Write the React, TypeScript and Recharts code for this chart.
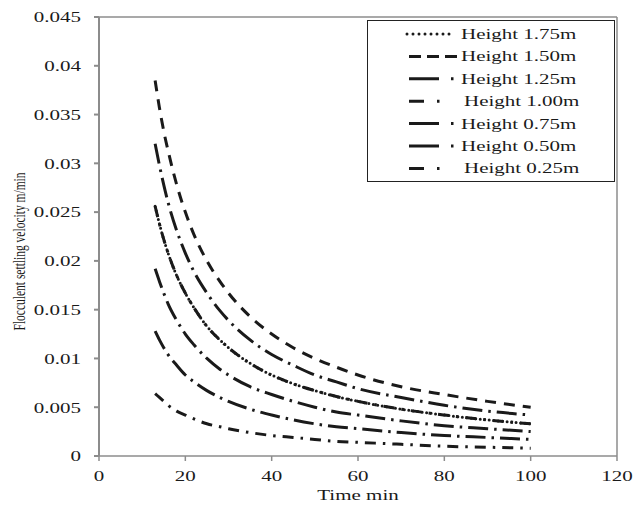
import React from 'react'
import { LineChart, Line, XAxis, YAxis, ReferenceLine, Legend } from 'recharts'

// settling velocity (m/min), by elapsed time (min)
const times = [13, 14, 15, 16, 18, 20, 22, 25, 28, 30, 35, 40, 45, 50, 55, 60, 70, 80, 90, 100]
const h150 = [0.0385, 0.0357, 0.0333, 0.0313, 0.0278, 0.025, 0.0227, 0.02, 0.0179, 0.0167, 0.0143, 0.0125, 0.0111, 0.01, 0.0091, 0.0083, 0.0071, 0.0063, 0.0056, 0.005]
const h125 = [0.032, 0.0298, 0.0278, 0.026, 0.0231, 0.0208, 0.0189, 0.0167, 0.0149, 0.0139, 0.0119, 0.0104, 0.0093, 0.0083, 0.0076, 0.0069, 0.006, 0.0052, 0.0046, 0.0042]
const h100 = [0.0256, 0.0238, 0.0222, 0.0208, 0.0185, 0.0167, 0.0152, 0.0133, 0.0119, 0.0111, 0.0095, 0.0083, 0.0074, 0.0067, 0.0061, 0.0056, 0.0048, 0.0042, 0.0037, 0.0033]
const h175 = [0.0256, 0.0238, 0.0222, 0.0208, 0.0185, 0.0167, 0.0152, 0.0133, 0.0119, 0.0111, 0.0095, 0.0083, 0.0074, 0.0067, 0.0061, 0.0056, 0.0048, 0.0042, 0.0037, 0.0033]
const h075 = [0.0192, 0.0179, 0.0167, 0.0156, 0.0139, 0.0125, 0.0114, 0.01, 0.0089, 0.0083, 0.0071, 0.0063, 0.0056, 0.005, 0.0045, 0.0042, 0.0036, 0.0031, 0.0028, 0.0025]
const h050 = [0.0128, 0.0119, 0.0111, 0.0104, 0.0093, 0.0083, 0.0076, 0.0067, 0.006, 0.0056, 0.0048, 0.0042, 0.0037, 0.0033, 0.003, 0.0028, 0.0024, 0.0021, 0.0019, 0.0017]
const h025 = [0.0064, 0.006, 0.0056, 0.0052, 0.0046, 0.0042, 0.0038, 0.0033, 0.003, 0.0028, 0.0024, 0.0021, 0.0019, 0.0017, 0.0015, 0.0014, 0.0012, 0.001, 0.0009, 0.0008]

const xTicks = [0, 20, 40, 60, 80, 100, 120]
const yTicks = [0, 0.005, 0.01, 0.015, 0.02, 0.025, 0.03, 0.035, 0.04, 0.045]

const INK = '#1a1a1a'
const AXIS = '#8c8c8c'
const FONT = '"Liberation Serif", "Times New Roman", serif'
const SX = 1.4 // the source image is stretched sideways

const series = [
  { key: 'h100', name: 'Height 1.00m', values: h100, dash: '11 7 2.5 7', cap: 'butt', legendDash: '15 13 2.5 100', textX: 96 },
  { key: 'h175', name: 'Height 1.75m', values: h175, dash: '0 4.5', cap: 'round', legendDash: '0 6', textX: 93 },
  { key: 'h150', name: 'Height 1.50m', values: h150, dash: '11 8', cap: 'butt', legendDash: '12 6', textX: 93 },
  { key: 'h125', name: 'Height 1.25m', values: h125, dash: '20 6 2.5 6', cap: 'butt', legendDash: '30 12 2.5 100', textX: 93 },
  { key: 'h075', name: 'Height 0.75m', values: h075, dash: '20 6 2.5 6', cap: 'butt', legendDash: '30 12 2.5 100', textX: 93 },
  { key: 'h050', name: 'Height 0.50m', values: h050, dash: '20 6 2.5 6', cap: 'butt', legendDash: '30 12 2.5 100', textX: 93 },
  { key: 'h025', name: 'Height 0.25m', values: h025, dash: '11 7 2.5 7', cap: 'butt', legendDash: '15 13 2.5 100', textX: 96 },
]

const legendOrder = ['h175', 'h150', 'h125', 'h100', 'h075', 'h050', 'h025']

const data = times.map((t, i) => {
  const row: any = { t }
  series.forEach(s => { row[s.key] = s.values[i] })
  return row
})

const XTick = (props: any) => {
  const { x, y, payload } = props
  return (
    <text transform={`translate(${x},${y}) scale(${SX},1)`} dy="0.71em" textAnchor="middle"
      fontSize={15} fontFamily={FONT} fill={INK}>{payload.value}</text>
  )
}

const YTick = (props: any) => {
  const { x, y, payload } = props
  return (
    <text transform={`translate(${x},${y}) scale(${SX},1)`} dy="0.355em" textAnchor="end"
      fontSize={15} fontFamily={FONT} fill={INK}>{payload.value}</text>
  )
}

const LegendBox = () => (
  <svg width={248} height={162} style={{ display: 'block' }}>
    {legendOrder.map((k, i) => {
      const s = series.find(d => d.key === k)!
      const cy = 13 + i * 22.4
      return (
        <g key={k}>
          <line x1={s.cap === 'round' ? 39 : 41} x2={s.cap === 'round' ? 82 : 90} y1={cy} y2={cy}
            stroke={INK} strokeWidth={3} strokeDasharray={s.legendDash} strokeLinecap={s.cap as any} />
          <text transform={`translate(${s.textX},${cy + 5}) scale(${SX},1)`} fontSize={15}
            fontFamily={FONT} fill={INK}>{s.name}</text>
        </g>
      )
    })}
  </svg>
)

export default function App() {
  return (
    <div style={{ position: 'absolute', left: 0, top: 0, width: 635, height: 505, background: '#fff' }}>
      <LineChart width={635} height={505} data={data} margin={{ top: 17, right: 18, left: 0, bottom: 0 }}>
        <XAxis dataKey="t" type="number" domain={[0, 120]} ticks={xTicks} interval={0}
          height={49} tickSize={5} tickMargin={9} stroke={AXIS} strokeWidth={1.5}
          tick={<XTick />}
          label={{
            content: () => (
              <text transform={`translate(358,500) scale(${SX},1)`} textAnchor="middle"
                fontSize={15} fontFamily={FONT} fill={INK}>Time min</text>
            ),
          }} />
        <YAxis type="number" domain={[0, 0.045]} ticks={yTicks} interval={0}
          width={99} tickSize={5} tickMargin={13} stroke={AXIS} strokeWidth={2}
          tick={<YTick />}
          label={{
            content: () => (
              <text transform={`translate(24.5,251.5) scale(${SX},1) rotate(-90)`} textAnchor="middle"
                fontSize={11.5} fontFamily={FONT} fill={INK}>Flocculent settling velocity m/min</text>
            ),
          }} />
        <ReferenceLine y={0.045} stroke={AXIS} strokeWidth={1.5} />
        <ReferenceLine x={120} stroke={AXIS} strokeWidth={1.5} />
        {series.map(s => (
          <Line key={s.key} dataKey={s.key} name={s.name} type="monotone" stroke={INK}
            strokeWidth={3} strokeDasharray={s.dash} strokeLinecap={s.cap as any}
            dot={false} activeDot={false} isAnimationActive={false} />
        ))}
        <Legend layout="vertical" verticalAlign="middle" align="center" content={<LegendBox />}
          wrapperStyle={{ position: 'absolute', left: 367, top: 20, width: 248, height: 162,
            border: '1px solid #222', background: '#fff', boxSizing: 'border-box' }} />
      </LineChart>
    </div>
  )
}
